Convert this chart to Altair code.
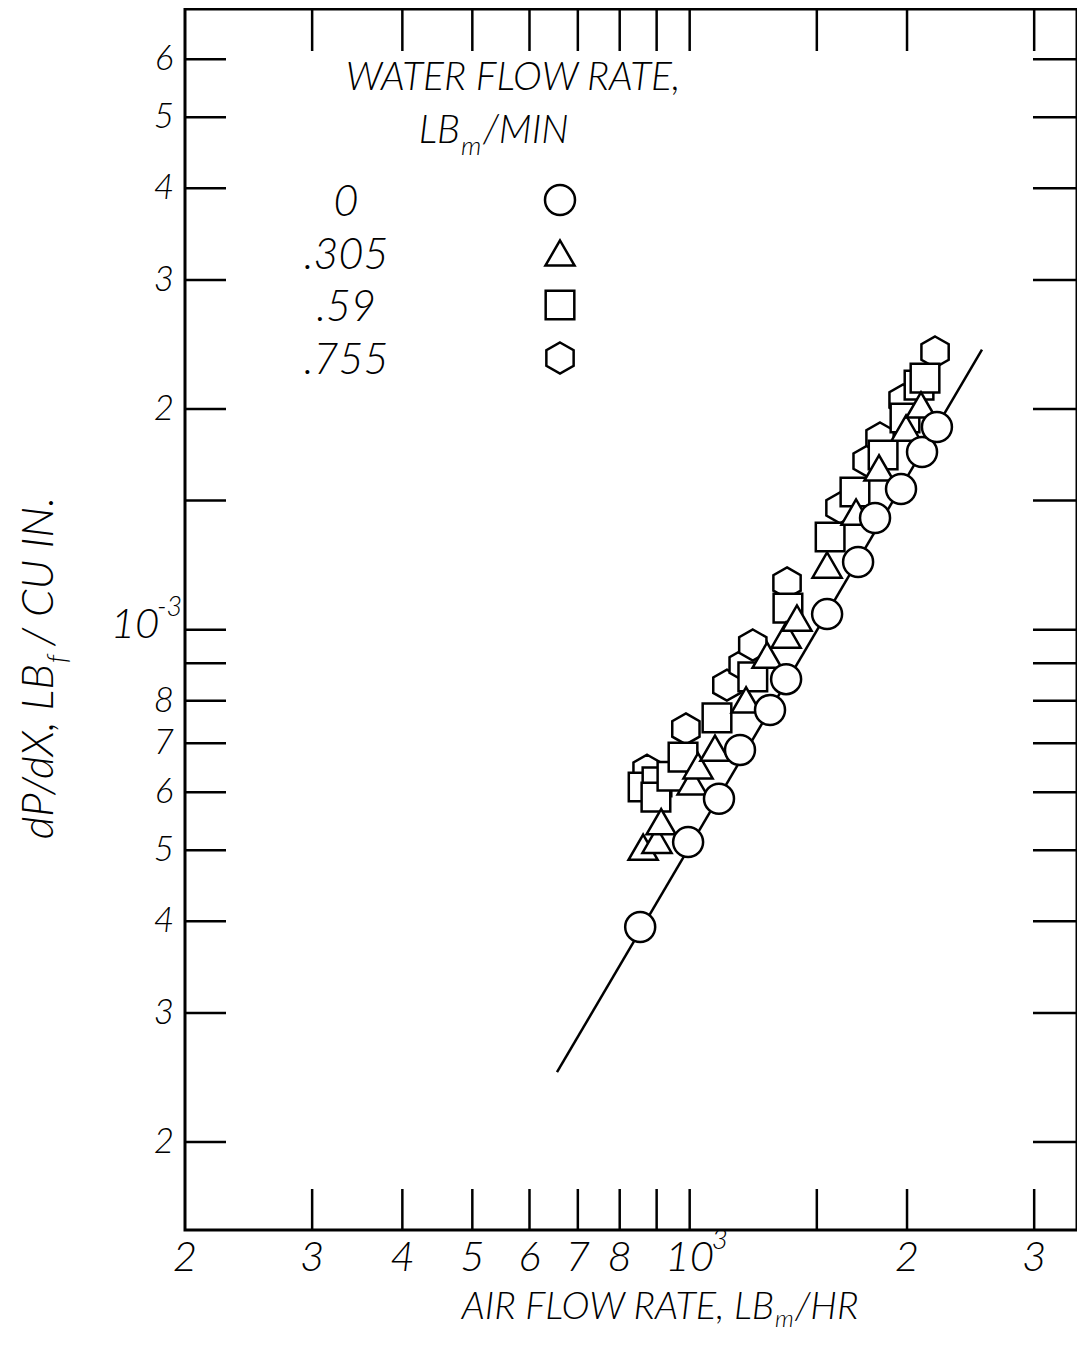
import altair as alt
import pandas as pd

# ---------------- data ----------------
# water flow rate 0 lb/min (circles)
air_w0 = [854, 995, 1098, 1174, 1292, 1360, 1550, 1711, 1806, 1962, 2098, 2200]
dpdx_w0 = [3.93e-4, 5.13e-4, 5.88e-4, 6.85e-4, 7.77e-4, 8.56e-4, 1.050e-3, 1.237e-3,
           1.420e-3, 1.556e-3, 1.747e-3, 1.890e-3]
# water flow rate .305 lb/min (triangles)
air_w305 = [862, 901, 913, 1008, 1027, 1084, 1197, 1280, 1360, 1408, 1550, 1700, 1829, 1994, 2091]
dpdx_w305 = [5.05e-4, 5.16e-4, 5.47e-4, 6.20e-4, 6.52e-4, 6.89e-4, 8.02e-4, 9.23e-4, 9.83e-4,
             1.037e-3, 1.225e-3, 1.447e-3, 1.662e-3, 1.884e-3, 2.026e-3]
# water flow rate .59 lb/min (squares)
air_w59 = [862, 901, 898, 945, 979, 1091, 1223, 1368, 1565, 1694, 1853, 1987, 2078, 2118]
dpdx_w59 = [6.10e-4, 6.20e-4, 5.91e-4, 6.31e-4, 6.70e-4, 7.58e-4, 8.62e-4, 1.070e-3, 1.338e-3,
            1.541e-3, 1.731e-3, 1.944e-3, 2.156e-3, 2.204e-3]
# water flow rate .755 lb/min (hexagons)
air_w755 = [873, 988, 1126, 1186, 1223, 1364, 1615, 1761, 1835, 1975, 2187]
dpdx_w755 = [6.43e-4, 7.32e-4, 8.40e-4, 8.95e-4, 9.53e-4, 1.158e-3, 1.466e-3, 1.698e-3,
             1.826e-3, 2.058e-3, 2.392e-3]

water_rates = ["0", ".305", ".59", ".755"]

# straight correlation line (end points)
fit_air = [655, 2540]
fit_dpdx = [2.49e-4, 2.41e-3]

# axis ticks and labels
x_tick_values = [300, 400, 500, 600, 700, 800, 900, 1000, 1500, 2000, 3000]
y_tick_values = [2e-4, 3e-4, 4e-4, 5e-4, 6e-4, 7e-4, 8e-4, 9e-4, 1e-3, 1.5e-3,
                 2e-3, 3e-3, 4e-3, 5e-3, 6e-3]
x_label_values = [200, 300, 400, 500, 600, 700, 800, 1000, 2000, 3000]
x_label_text = ["2", "3", "4", "5", "6", "7", "8", "10", "2", "3"]
y_label_values = [2e-4, 3e-4, 4e-4, 5e-4, 6e-4, 7e-4, 8e-4, 2e-3, 3e-3, 4e-3, 5e-3, 6e-3]
y_label_text = ["2", "3", "4", "5", "6", "7", "8", "2", "3", "4", "5", "6"]
decade_x_value = [1000]
decade_y_value = [1e-3]

# ---------------- layout / style ----------------
W, H = 892, 1221
FONT = "Lato"
WEIGHT = 300
INK = "black"
HEX = "M0,-1L0.88,-0.5L0.88,0.5L0,1L-0.88,0.5L-0.88,-0.5Z"

x_scale = alt.Scale(type="log", domain=[200, 3439], nice=False)
y_scale = alt.Scale(type="log", domain=[1.5168e-4, 7.027e-3], nice=False)


def X(f):
    return alt.X(f"{f}:Q", scale=x_scale, axis=None)


def Y(f):
    return alt.Y(f"{f}:Q", scale=y_scale, axis=None)


def tmark(size, align="center", baseline="alphabetic", angle=0, dx=0, dy=0):
    return dict(font=FONT, fontSize=size, fontStyle="italic", fontWeight=WEIGHT, color=INK,
                align=align, baseline=baseline, angle=angle, dx=dx, dy=dy)


def text_layer(texts, size, x, y, **kw):
    df = pd.DataFrame({"t": texts})
    return alt.Chart(df).mark_text(**tmark(size, **kw)).encode(text="t:N", x=x, y=y)


layers = []

# correlation line
line_df = pd.DataFrame({"air": fit_air, "dpdx": fit_dpdx})
layers.append(alt.Chart(line_df).mark_line(color=INK, strokeWidth=2.5).encode(x=X("air"), y=Y("dpdx")))

# data points (hexagons bottom, circles on top)
series = [
    (".755", air_w755, dpdx_w755, HEX, 961),
    (".59", air_w59, dpdx_w59, "square", 820),
    (".305", air_w305, dpdx_w305, "triangle-up", 850),
    ("0", air_w0, dpdx_w0, "circle", 900),
]
for rate, xs, ys, shape, size in series:
    df = pd.DataFrame({"air": xs, "dpdx": ys, "water": rate})
    layers.append(
        alt.Chart(df).mark_point(shape=shape, size=size, filled=True, fill="white",
                                 stroke=INK, strokeWidth=2.5, opacity=1)
        .encode(x=X("air"), y=Y("dpdx"), tooltip=["water:N", "air:Q", "dpdx:Q"])
    )

# inward ticks
xt = pd.DataFrame({"v": x_tick_values})
yt = pd.DataFrame({"v": y_tick_values})
rule = dict(color=INK, strokeWidth=2.5)
layers.append(alt.Chart(xt).mark_rule(**rule).encode(x=X("v"), y=alt.value(H), y2=alt.value(H - 41)))
layers.append(alt.Chart(xt).mark_rule(**rule).encode(x=X("v"), y=alt.value(0), y2=alt.value(42)))
layers.append(alt.Chart(yt).mark_rule(**rule).encode(y=Y("v"), x=alt.value(0), x2=alt.value(41)))
layers.append(alt.Chart(yt).mark_rule(**rule).encode(y=Y("v"), x=alt.value(W - 44), x2=alt.value(W)))

# tick labels
xl = pd.DataFrame({"v": x_label_values, "t": x_label_text})
layers.append(alt.Chart(xl).mark_text(**tmark(42)).encode(x=X("v"), y=alt.value(1262), text="t:N"))
layers.append(alt.Chart(pd.DataFrame({"v": decade_x_value, "t": ["3"]}))
              .mark_text(**tmark(28, align="left", dx=22))
              .encode(x=X("v"), y=alt.value(1240), text="t:N"))
yl = pd.DataFrame({"v": y_label_values, "t": y_label_text})
layers.append(alt.Chart(yl).mark_text(**tmark(35, baseline="middle"))
              .encode(y=Y("v"), x=alt.value(-21), text="t:N"))
layers.append(alt.Chart(pd.DataFrame({"v": decade_y_value, "t": ["10"]}))
              .mark_text(**tmark(42, baseline="middle", dy=-5))
              .encode(y=Y("v"), x=alt.value(-50), text="t:N"))
layers.append(alt.Chart(pd.DataFrame({"v": decade_y_value, "t": ["-3"]}))
              .mark_text(**tmark(27, align="left", dy=-14))
              .encode(y=Y("v"), x=alt.value(-28), text="t:N"))

# axis titles
layers.append(text_layer(["AIR FLOW RATE, LB"], 38, alt.value(589), alt.value(1310), align="right"))
layers.append(text_layer(["m"], 24, alt.value(590), alt.value(1318), align="left"))
layers.append(text_layer(["/HR"], 38, alt.value(610), alt.value(1310), align="left"))

layers.append(text_layer(["dP/dX, LB"], 44, alt.value(-132), alt.value(655), align="right", angle=270))
layers.append(text_layer(["f"], 27, alt.value(-118), alt.value(654), align="left", angle=270))
layers.append(text_layer(["/ CU IN."], 44, alt.value(-132), alt.value(637), align="left", angle=270))

# legend (key)
layers.append(text_layer(["WATER FLOW RATE,"], 39, alt.value(328), alt.value(81)))
layers.append(text_layer(["LB"], 39, alt.value(275), alt.value(134), align="right"))
layers.append(text_layer(["m"], 26, alt.value(276), alt.value(146), align="left"))
layers.append(text_layer(["/MIN"], 39, alt.value(298), alt.value(134), align="left"))

row_y = [191, 244, 296, 349]
shapes = {"0": ("circle", 900), ".305": ("triangle-up", 850), ".59": ("square", 820), ".755": (HEX, 961)}
for i, rate in enumerate(water_rates):
    layers.append(text_layer([rate], 43, alt.value(161), alt.value(row_y[i] + 16)))
    shp, sz = shapes[rate]
    layers.append(
        alt.Chart(pd.DataFrame({"water": [rate]})).mark_point(
            shape=shp, size=sz, filled=True, fill="white", stroke=INK, strokeWidth=2.5, opacity=1)
        .encode(x=alt.value(375), y=alt.value(row_y[i]))
    )

chart = alt.layer(*layers).properties(
    width=W, height=H,
    autosize=alt.AutoSizeParams(type="none"),
    padding={"left": 177, "top": 1, "right": 0, "bottom": 103},
    background="white",
).configure_view(stroke=INK, strokeWidth=3)

chart.save("out.html", embed_options={"renderer": "svg", "actions": False})
